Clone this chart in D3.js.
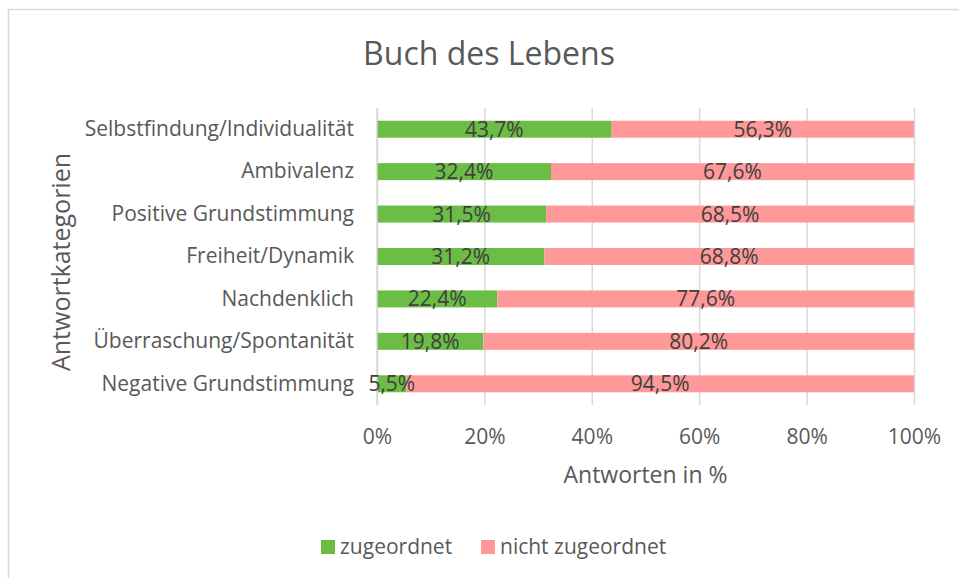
<!DOCTYPE html>
<html>
<head>
<meta charset="utf-8">
<script src="https://cdn.jsdelivr.net/npm/d3@7"></script>
<style>
  body { margin: 0; background: #fff; }
  svg text { font-family: 'Open Sans', 'Noto Sans', sans-serif; }
</style>
</head>
<body>
<div id="chart"></div>
<script>
const categories = [
  'Selbstfindung/Individualität',
  'Ambivalenz',
  'Positive Grundstimmung',
  'Freiheit/Dynamik',
  'Nachdenklich',
  'Überraschung/Spontanität',
  'Negative Grundstimmung'
]
const zugeordnet = [43.7, 32.4, 31.5, 31.2, 22.4, 19.8, 5.5]
const nichtZugeordnet = [56.3, 67.6, 68.5, 68.8, 77.6, 80.2, 94.5]
const seriesNames = ['zugeordnet', 'nicht zugeordnet']
const xTicks = [0, 20, 40, 60, 80, 100]

const width = 959
const height = 578
const margin = { top: 108, right: 45, bottom: 173, left: 377 }
const colors = ['#6bbd45', '#ff9999']

const svg = d3.select('#chart').append('svg')
  .attr('width', width)
  .attr('height', height)

// chart frame (only top and left edges visible in the picture)
svg.append('path')
  .attr('d', `M8.5,${height} V9.5 H${width}`)
  .attr('fill', 'none')
  .attr('stroke', '#d9d9d9')
  .attr('stroke-width', 1.5)

const plotW = width - margin.left - margin.right
const plotH = height - margin.top - margin.bottom

const x = d3.scaleLinear().domain([0, 100]).range([0, plotW])
const y = d3.scaleBand().domain(categories).range([0, plotH]).paddingInner(0.6).paddingOuter(0.3)

const g = svg.append('g').attr('transform', `translate(${margin.left},${margin.top})`)

// grid lines
const grid = g.append('g').call(
  d3.axisBottom(x).tickValues(xTicks).tickSize(plotH).tickFormat('')
)
grid.select('.domain').remove()
grid.selectAll('.tick line').attr('stroke', '#d9d9d9').attr('stroke-width', 1.5)

// stacked data
const rows = categories.map((c, i) => ({ cat: c, values: [zugeordnet[i], nichtZugeordnet[i]] }))
const segs = []
rows.forEach(r => {
  let start = 0
  r.values.forEach((v, j) => {
    segs.push({ cat: r.cat, x0: start, x1: start + v, v, j })
    start += v
  })
})

g.selectAll('rect.bar')
  .data(segs)
  .enter()
  .append('rect')
  .attr('class', 'bar')
  .attr('x', d => x(d.x0))
  .attr('y', d => y(d.cat))
  .attr('width', d => x(d.x1) - x(d.x0))
  .attr('height', y.bandwidth())
  .attr('fill', d => colors[d.j])

// y axis line at 0
g.append('line')
  .attr('x1', 0).attr('x2', 0)
  .attr('y1', 0).attr('y2', plotH)
  .attr('stroke', '#d9d9d9').attr('stroke-width', 1.5)

// data labels
g.selectAll('text.label')
  .data(segs)
  .enter()
  .append('text')
  .attr('class', 'label')
  .attr('x', d => x((d.x0 + d.x1) / 2))
  .attr('y', d => y(d.cat) + y.bandwidth() / 2)
  .attr('dy', '0.36em')
  .attr('text-anchor', 'middle')
  .attr('font-size', 21)
  .attr('fill', '#404040')
  .text(d => d.v.toFixed(1).replace('.', ',') + '%')

// y axis labels
const yAxis = g.append('g').call(d3.axisLeft(y).tickSize(0).tickPadding(23))
yAxis.select('.domain').remove()
yAxis.selectAll('.tick text')
  .attr('font-size', 21)
  .attr('fill', '#595959')

// x axis labels
const xAxis = g.append('g')
  .attr('transform', `translate(0,${plotH})`)
  .call(d3.axisBottom(x).tickValues(xTicks).tickSize(0).tickPadding(24).tickFormat(d => d + '%'))
xAxis.select('.domain').remove()
xAxis.selectAll('.tick text')
  .attr('font-size', 21)
  .attr('fill', '#595959')

// title
svg.append('text')
  .attr('x', 489)
  .attr('y', 65)
  .attr('text-anchor', 'middle')
  .attr('font-size', 32)
  .attr('fill', '#595959')
  .text('Buch des Lebens')

// axis titles
svg.append('text')
  .attr('x', margin.left + plotW / 2)
  .attr('y', 483)
  .attr('text-anchor', 'middle')
  .attr('font-size', 23)
  .attr('fill', '#595959')
  .text('Antworten in %')

svg.append('text')
  .attr('transform', `translate(70,262) rotate(-90)`)
  .attr('text-anchor', 'middle')
  .attr('font-size', 25)
  .attr('fill', '#595959')
  .text('Antwortkategorien')

// legend
const legend = svg.append('g').attr('transform', 'translate(321,547)')
const legendX = [0, 160]
legend.selectAll('rect')
  .data(seriesNames)
  .enter()
  .append('rect')
  .attr('x', (d, i) => legendX[i])
  .attr('y', -7)
  .attr('width', 14)
  .attr('height', 14)
  .attr('fill', (d, i) => colors[i])
legend.selectAll('text')
  .data(seriesNames)
  .enter()
  .append('text')
  .attr('x', (d, i) => legendX[i] + 19)
  .attr('y', 0)
  .attr('dy', '0.35em')
  .attr('font-size', 21)
  .attr('fill', '#595959')
  .text(d => d)
</script>
</body>
</html>
